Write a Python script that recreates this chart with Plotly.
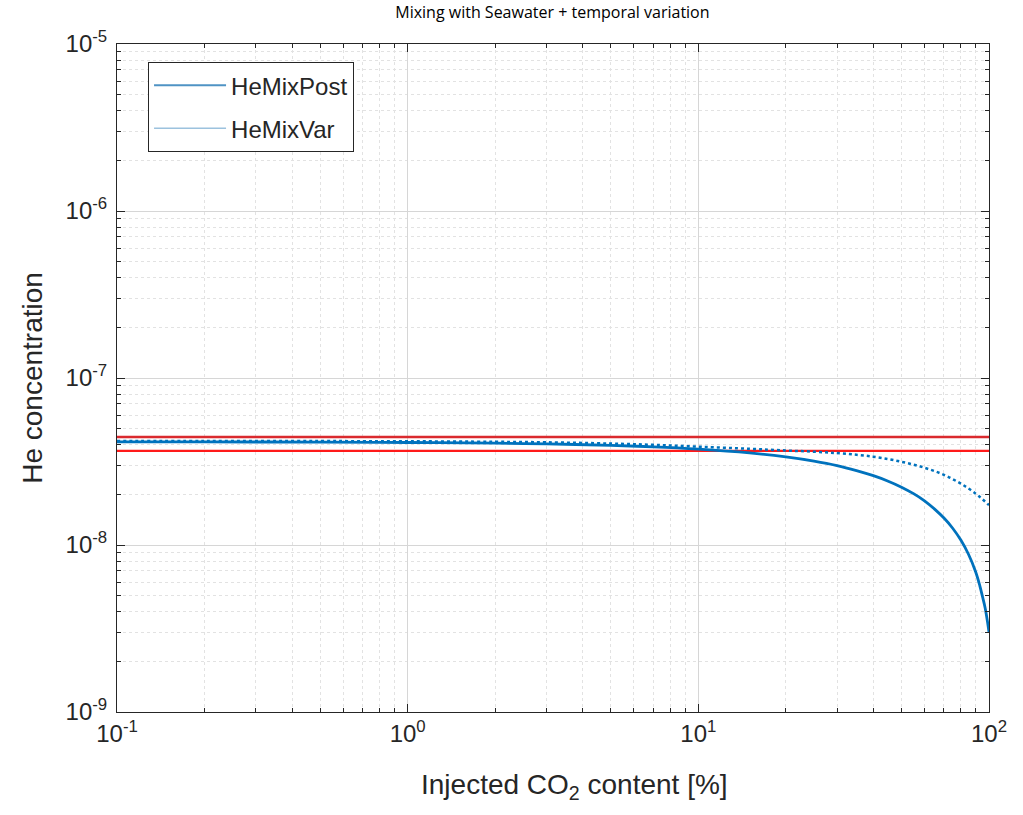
import plotly.graph_objects as go

# Data
co2_pct = [0.1, 0.2, 0.5, 1, 2, 3, 5, 7, 10, 15, 20, 25, 30, 35, 40, 45, 50, 55, 60, 65, 70, 75, 80, 85,
           90, 93, 95, 97, 99, 100]
he_mix_post = [4.14e-8, 4.14e-8, 4.13e-8, 4.11e-8, 4.07e-8, 4.03e-8, 3.95e-8, 3.87e-8, 3.75e-8, 3.56e-8,
               3.37e-8, 3.18e-8, 2.99e-8, 2.79e-8, 2.60e-8, 2.41e-8, 2.22e-8, 2.03e-8, 1.84e-8, 1.64e-8,
               1.45e-8, 1.26e-8, 1.07e-8, 0.88e-8, 0.69e-8, 0.57e-8, 0.49e-8, 0.42e-8, 0.34e-8, 0.30e-8]
he_mix_var = [4.20e-8, 4.20e-8, 4.19e-8, 4.18e-8, 4.15e-8, 4.12e-8, 4.05e-8, 3.98e-8, 3.88e-8, 3.77e-8,
              3.68e-8, 3.62e-8, 3.55e-8, 3.47e-8, 3.38e-8, 3.27e-8, 3.15e-8, 3.03e-8, 2.90e-8, 2.77e-8,
              2.63e-8, 2.48e-8, 2.33e-8, 2.18e-8, 2.03e-8, 1.94e-8, 1.88e-8, 1.82e-8, 1.76e-8, 1.74e-8]
red_x = [0.1, 100]
red_upper = [4.43e-8, 4.43e-8]
red_lower = [3.66e-8, 3.66e-8]

y_decades = [-9, -8, -7, -6, -5]
x_decades = [-1, 0, 1, 2]

BLUE = "#0072BD"
AX = "#262626"
FONT = "Liberation Sans, Arial, sans-serif"

fig = go.Figure()
fig.add_trace(go.Scatter(x=red_x, y=red_upper, mode="lines", line=dict(color="#DA2A2E", width=2.4),
                         showlegend=False, hoverinfo="skip"))
fig.add_trace(go.Scatter(x=red_x, y=red_lower, mode="lines", line=dict(color="#FF1A1A", width=2.4),
                         showlegend=False, hoverinfo="skip"))
fig.add_trace(go.Scatter(x=co2_pct, y=he_mix_var, mode="lines", line=dict(color=BLUE, width=2.5, dash="dot", shape="spline"),
                         showlegend=False))
fig.add_trace(go.Scatter(x=co2_pct, y=he_mix_post, mode="lines", line=dict(color=BLUE, width=2.8, shape="spline"),
                         showlegend=False))
# legend entries (drawn as solid thin lines as in the original)
fig.add_trace(go.Scatter(x=[None], y=[None], mode="lines", name="HeMixPost",
                         line=dict(color="#4F93C4", width=2), legendgroup="a"))
fig.add_trace(go.Scatter(x=[None], y=[None], mode="lines", name="HeMixVar",
                         line=dict(color="#9CC2DE", width=1.5), legendgroup="b"))

minor_y = [m * 10.0 ** d for d in range(-9, -5 + 1) for m in range(2, 10) if m * 10.0 ** d < 1e-5]
minor_x = [m * 10.0 ** d for d in range(-1, 2 + 1) for m in range(2, 10) if m * 10.0 ** d < 100]

fig.update_layout(
    width=1023, height=815,
    margin=dict(l=117, r=34, t=44, b=103),
    paper_bgcolor="white", plot_bgcolor="white",
    title=dict(text="Mixing with Seawater + temporal variation", x=0.54, xanchor="center",
               y=1 - 12 / 815, yanchor="middle",
               font=dict(family="Open Sans, sans-serif", size=16, color="black")),
    font=dict(family=FONT, color=AX),
    showlegend=True,
    legend=dict(x=0.0356, y=0.973, xanchor="left", yanchor="top", bgcolor="white",
                bordercolor=AX, borderwidth=1, font=dict(size=24, family=FONT, color=AX),
                traceorder="grouped", tracegroupgap=9, itemwidth=72),
    annotations=[dict(text="Injected CO<sub>2</sub> content [%]", xref="paper", yref="paper",
                      x=0.525, y=-74 / 668, xanchor="center", yanchor="middle", showarrow=False,
                      font=dict(size=28, family=FONT, color=AX))],
)
fig.update_xaxes(
    type="log", range=[-1, 2],
    tickvals=[10.0 ** d for d in x_decades],
    ticktext=[f"10<sup>{d}</sup>" for d in x_decades],
    tickfont=dict(size=24, family=FONT, color=AX),
    ticks="inside", ticklen=8, tickcolor=AX, mirror="ticks",
    showline=True, linecolor=AX, linewidth=1,
    showgrid=True, gridcolor="#D6D6D6", gridwidth=1,
    minor=dict(tickvals=minor_x, ticks="inside", ticklen=4, tickcolor=AX, showgrid=True,
               gridcolor="#E2E2E2", griddash="dot", gridwidth=1),
    zeroline=False,
)
fig.update_yaxes(
    type="log", range=[-9, -5],
    tickvals=[10.0 ** d for d in y_decades],
    ticktext=[f"10<sup>{d}</sup>" for d in y_decades],
    tickfont=dict(size=24, family=FONT, color=AX),
    ticks="inside", ticklen=8, tickcolor=AX, mirror="ticks",
    showline=True, linecolor=AX, linewidth=1, ticklabelstandoff=4,
    showgrid=True, gridcolor="#D6D6D6", gridwidth=1,
    minor=dict(tickvals=minor_y, ticks="inside", ticklen=4, tickcolor=AX, showgrid=True,
               gridcolor="#E2E2E2", griddash="dot", gridwidth=1),
    title=dict(text="He concentration", font=dict(size=28, family=FONT, color=AX), standoff=14),
    zeroline=False,
)

fig.write_html("out.html")
